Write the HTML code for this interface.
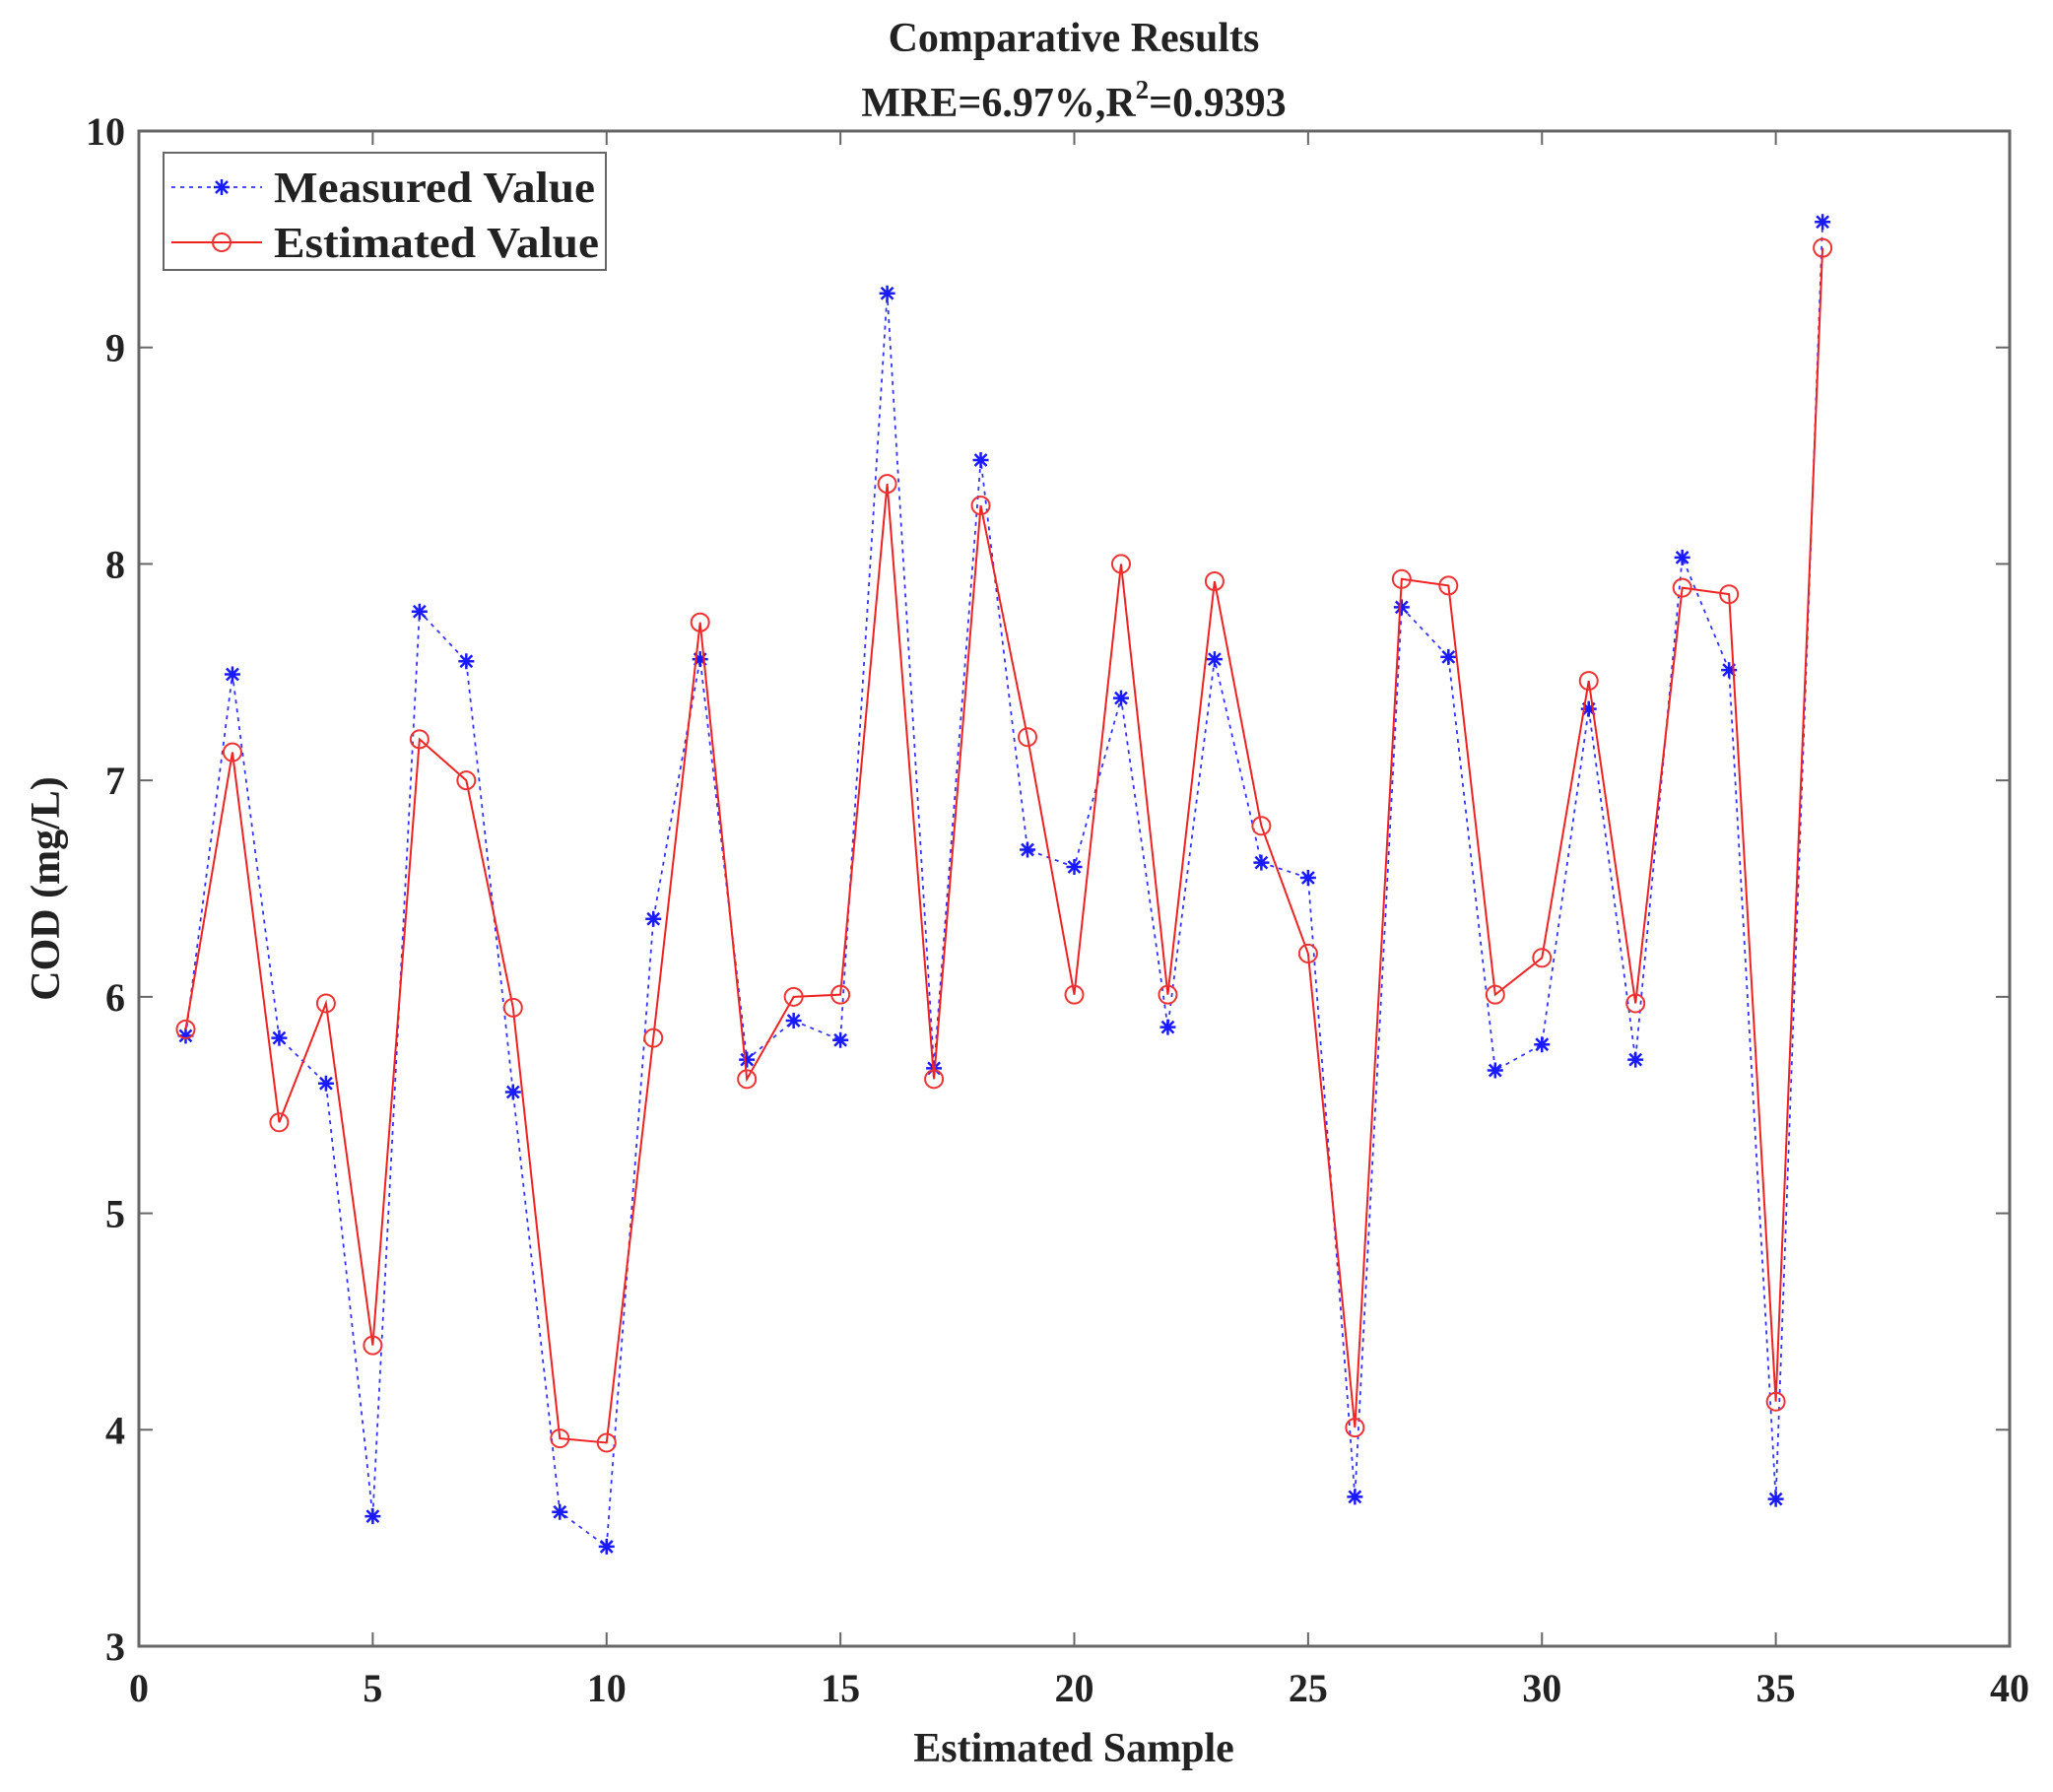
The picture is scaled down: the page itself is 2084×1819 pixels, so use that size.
<!DOCTYPE html>
<html><head><meta charset="utf-8"><style>body{margin:0;background:#fff}svg{display:block}text{font-family:"Liberation Serif",serif;font-weight:bold;fill:#222}</style></head>
<body>
<svg id="s" width="2084" height="1819" xmlns="http://www.w3.org/2000/svg">
<text x="1090" y="52" font-size="42" text-anchor="middle">Comparative Results</text>
<text x="1090" y="118" font-size="42" text-anchor="middle">MRE=6.97%,R<tspan font-size="27" dy="-18">2</tspan><tspan dy="18">=0.9393</tspan></text>
<text x="1090" y="1788" font-size="42" text-anchor="middle">Estimated Sample</text>
<text transform="translate(60,902) rotate(-90)" font-size="42" text-anchor="middle">COD (mg/L)</text>
<g id="g"></g>
</svg>
<script>
const X0=141,X1=2040,Y0=1671,Y1=133;
const sx=v=>X0+(X1-X0)*v/40, sy=v=>Y0-(Y0-Y1)*(v-3)/7;
const m=[5.82,7.49,5.81,5.60,3.60,7.78,7.55,5.56,3.62,3.46,6.36,7.56,5.71,5.89,5.80,9.25,5.67,8.48,6.68,6.60,7.38,5.86,7.56,6.62,6.55,3.69,7.80,7.57,5.66,5.78,7.33,5.71,8.03,7.51,3.68,9.58];
const e=[5.85,7.13,5.42,5.97,4.39,7.19,7.00,5.95,3.96,3.94,5.81,7.73,5.62,6.00,6.01,8.37,5.62,8.27,7.20,6.01,8.00,6.01,7.92,6.79,6.20,4.01,7.93,7.90,6.01,6.18,7.46,5.97,7.89,7.86,4.13,9.46];
let h='';
h+=`<rect x="${X0}" y="${Y1}" width="${X1-X0}" height="${Y0-Y1}" fill="none" stroke="#666" stroke-width="3"/>`;
for(let i=0;i<=40;i+=5){const x=sx(i);h+=`<line x1="${x}" y1="${Y0}" x2="${x}" y2="${Y0-14}" stroke="#666" stroke-width="2"/><line x1="${x}" y1="${Y1}" x2="${x}" y2="${Y1+14}" stroke="#666" stroke-width="2"/><text x="${x}" y="${Y0+56}" font-size="40" text-anchor="middle">${i}</text>`;}
for(let v=3;v<=10;v++){const y=sy(v);h+=`<line x1="${X0}" y1="${y}" x2="${X0+14}" y2="${y}" stroke="#666" stroke-width="2"/><line x1="${X1}" y1="${y}" x2="${X1-14}" y2="${y}" stroke="#666" stroke-width="2"/><text x="${X0-14}" y="${y+14}" font-size="40" text-anchor="end">${v}</text>`;}
const star=(x,y)=>`<path d="M${x-8} ${y}H${x+8}M${x} ${y-8}V${y+8}M${x-6} ${y-6}L${x+6} ${y+6}M${x-6} ${y+6}L${x+6} ${y-6}" stroke="#1a1aff" stroke-width="2.5"/>`;
const circ=(x,y)=>`<circle cx="${x}" cy="${y}" r="9" fill="none" stroke="#e33" stroke-width="2"/>`;
h+=`<polyline points="${m.map((v,i)=>sx(i+1)+','+sy(v)).join(' ')}" fill="none" stroke="#3333ff" stroke-width="1.8" stroke-dasharray="4,5"/>`;
m.forEach((v,i)=>h+=star(sx(i+1),sy(v)));
h+=`<polyline points="${e.map((v,i)=>sx(i+1)+','+sy(v)).join(' ')}" fill="none" stroke="#ee2222" stroke-width="2"/>`;
e.forEach((v,i)=>h+=circ(sx(i+1),sy(v)));
h+=`<rect x="166" y="155" width="449" height="119" fill="#fff" stroke="#666" stroke-width="2"/>`;
h+=`<line x1="174" y1="190" x2="266" y2="190" stroke="#3333ff" stroke-width="1.8" stroke-dasharray="4,5"/>`+star(225,190);
h+=`<line x1="174" y1="246" x2="266" y2="246" stroke="#ee2222" stroke-width="2"/>`+circ(225,246);
h+=`<text x="278" y="205" font-size="44" textLength="326" lengthAdjust="spacingAndGlyphs">Measured Value</text><text x="278" y="261" font-size="44" textLength="330" lengthAdjust="spacingAndGlyphs">Estimated Value</text>`;
document.getElementById('g').innerHTML=h;
</script>
</body></html>
